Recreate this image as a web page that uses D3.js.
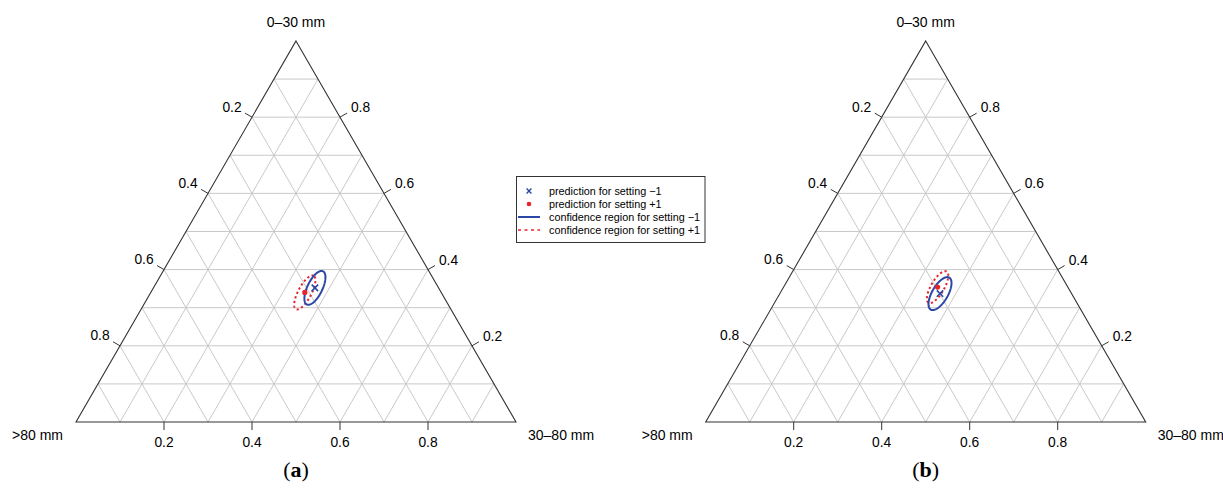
<!DOCTYPE html>
<html><head><meta charset="utf-8">
<script src="https://cdn.jsdelivr.net/npm/d3@7"></script>
<style>body{margin:0;background:#fff} svg{display:block}</style>
</head><body>
<svg id="chart" width="1223" height="488"></svg>
<script>
// Corner names: top vertex, bottom-right vertex, bottom-left vertex
const vertexTop = "0–30 mm";
const vertexRight = "30–80 mm";
const vertexLeft = ">80 mm";
const tickValues = [0.2, 0.4, 0.6, 0.8];
const gridSteps = [0.1, 0.2, 0.3, 0.4, 0.5, 0.6, 0.7, 0.8, 0.9];
const panelNames = ["a", "b"];

// Predicted compositions per panel: [0–30 mm, 30–80 mm, >80 mm]
const predMinus = [[0.352, 0.367, 0.281], [0.337, 0.364, 0.299]];
const predPlus  = [[0.340, 0.350, 0.310], [0.354, 0.350, 0.296]];
// Confidence ellipses around each prediction: semi-axes in side-length units, tilt in degrees
const ellMinus = [{a: 0.042, b: 0.017, angle: 64}, {a: 0.042, b: 0.018, angle: 60}];
const ellPlus  = [{a: 0.043, b: 0.015, angle: 62}, {a: 0.041, b: 0.015, angle: 60}];

const legendLabels = [
  "prediction for setting \u22121",
  "prediction for setting +1",
  "confidence region for setting \u22121",
  "confidence region for setting +1"
];

const BLUE = "#2b48a6", RED = "#e8232b", GRID = "#c9c9c9", AXIS = "#333";
const side = 440, baseY = 422;
const H = Math.sqrt(3) / 2;
const panelLeft = [76, 705.7];
const svg = d3.select("#chart");
const sans = "'Liberation Sans', Arial, sans-serif";

panelNames.forEach((name, p) => {
  const x = d3.scaleLinear().domain([0, 1]).range([panelLeft[p], panelLeft[p] + side]);
  const y = d3.scaleLinear().domain([0, H]).range([baseY, baseY - side * H]);
  // composition [top, right, left] -> screen
  const pt = c => [x(c[1] + c[0] / 2), y(c[0] * H)];
  const g = svg.append("g");
  const line = d3.line();

  // grid
  const gridLines = [];
  gridSteps.forEach(v => {
    gridLines.push([[v, 0, 1 - v], [v, 1 - v, 0]]);        // constant top share
    gridLines.push([[0, v, 1 - v], [1 - v, v, 0]]);        // constant right share
    gridLines.push([[0, 1 - v, v], [1 - v, 0, v]]);        // constant left share
  });
  g.selectAll("path.grid").data(gridLines).join("path")
    .attr("class", "grid")
    .attr("d", d => line(d.map(pt)))
    .attr("stroke", GRID).attr("stroke-width", 1).attr("fill", "none");

  // outline
  g.append("path")
    .attr("d", line([[1, 0, 0], [0, 1, 0], [0, 0, 1]].map(pt)) + "Z")
    .attr("fill", "none").attr("stroke", AXIS).attr("stroke-width", 1.1);

  const tl = 8;
  // bottom ticks: share of 30–80 mm
  tickValues.forEach(v => {
    const [px, py] = pt([0, v, 1 - v]);
    g.append("line").attr("x1", px).attr("y1", py).attr("x2", px).attr("y2", py + tl)
      .attr("stroke", AXIS).attr("stroke-width", 1);
    g.append("text").attr("x", px).attr("y", py + 25).attr("text-anchor", "middle")
      .attr("font-family", sans).attr("font-size", 13.8).text(v.toFixed(1));
  });
  // left ticks: share of >80 mm
  tickValues.forEach(v => {
    const [px, py] = pt([1 - v, 0, v]);
    const ex = px - tl * 0.866, ey = py - tl * 0.5;
    g.append("line").attr("x1", px).attr("y1", py).attr("x2", ex).attr("y2", ey)
      .attr("stroke", AXIS).attr("stroke-width", 1);
    g.append("text").attr("x", ex - 3.5).attr("y", ey - 1.5).attr("text-anchor", "end")
      .attr("font-family", sans).attr("font-size", 13.8).text(v.toFixed(1));
  });
  // right ticks: share of 0–30 mm
  tickValues.forEach(v => {
    const [px, py] = pt([v, 1 - v, 0]);
    const ex = px + tl * 0.866, ey = py - tl * 0.5;
    g.append("line").attr("x1", px).attr("y1", py).attr("x2", ex).attr("y2", ey)
      .attr("stroke", AXIS).attr("stroke-width", 1);
    g.append("text").attr("x", ex + 4).attr("y", ey - 1).attr("text-anchor", "start")
      .attr("font-family", sans).attr("font-size", 13.8).text(v.toFixed(1));
  });

  // vertex labels
  const top = pt([1, 0, 0]), br = pt([0, 1, 0]), bl = pt([0, 0, 1]);
  g.append("text").attr("x", top[0]).attr("y", top[1] - 14).attr("text-anchor", "middle")
    .attr("font-family", sans).attr("font-size", 14).text(vertexTop);
  g.append("text").attr("x", br[0] + 12).attr("y", br[1] + 18).attr("text-anchor", "start")
    .attr("font-family", sans).attr("font-size", 14).text(vertexRight);
  g.append("text").attr("x", bl[0] - 13).attr("y", bl[1] + 18).attr("text-anchor", "end")
    .attr("font-family", sans).attr("font-size", 14).text(vertexLeft);

  // confidence ellipses
  const ellipse = (c, e) => {
    const cx = c[1] + c[0] / 2, cy = c[0] * H;
    const phi = e.angle * Math.PI / 180;
    const pts = d3.range(0, 121).map(i => {
      const t = i / 120 * 2 * Math.PI;
      const dx = e.a * Math.cos(t) * Math.cos(phi) - e.b * Math.sin(t) * Math.sin(phi);
      const dy = e.a * Math.cos(t) * Math.sin(phi) + e.b * Math.sin(t) * Math.cos(phi);
      return [x(cx + dx), y(cy + dy)];
    });
    return line(pts);
  };
  g.append("path").attr("d", ellipse(predPlus[p], ellPlus[p]))
    .attr("fill", "none").attr("stroke", RED).attr("stroke-width", 2)
    .attr("stroke-dasharray", "2.2,2.6");
  g.append("path").attr("d", ellipse(predMinus[p], ellMinus[p]))
    .attr("fill", "none").attr("stroke", BLUE).attr("stroke-width", 2);

  // predictions
  const pm = pt(predMinus[p]);
  const s = 3.2;
  g.append("path").attr("d", `M${pm[0]-s},${pm[1]-s}L${pm[0]+s},${pm[1]+s}M${pm[0]-s},${pm[1]+s}L${pm[0]+s},${pm[1]-s}`)
    .attr("stroke", BLUE).attr("stroke-width", 1.6);
  const pp = pt(predPlus[p]);
  g.append("circle").attr("cx", pp[0]).attr("cy", pp[1]).attr("r", 2.6).attr("fill", RED);

  // panel caption
  const cap = g.append("text").attr("x", top[0]).attr("y", 477).attr("text-anchor", "middle")
    .attr("font-family", "'Liberation Serif', 'DejaVu Serif', serif").attr("font-size", 22);
  cap.append("tspan").text("(");
  cap.append("tspan").attr("font-weight", "bold").text(name);
  cap.append("tspan").text(")");
});

// legend
const lg = svg.append("g");
lg.append("rect").attr("x", 516.5).attr("y", 176.5).attr("width", 188.5).attr("height", 66)
  .attr("fill", "#fff").attr("stroke", AXIS).attr("stroke-width", 1);
const rowY = [191, 204, 217, 230];
legendLabels.forEach((t, i) => {
  lg.append("text").attr("x", 549).attr("y", rowY[i] + 3.8)
    .attr("font-family", sans).attr("font-size", 10.8).text(t);
});
const lx = 529, s2 = 2.4;
lg.append("path").attr("d", `M${lx-s2},${rowY[0]-s2}L${lx+s2},${rowY[0]+s2}M${lx-s2},${rowY[0]+s2}L${lx+s2},${rowY[0]-s2}`)
  .attr("stroke", BLUE).attr("stroke-width", 1.4);
lg.append("circle").attr("cx", lx).attr("cy", rowY[1]).attr("r", 2.3).attr("fill", RED);
lg.append("line").attr("x1", 518).attr("x2", 540).attr("y1", rowY[2]).attr("y2", rowY[2])
  .attr("stroke", BLUE).attr("stroke-width", 2);
lg.append("line").attr("x1", 518).attr("x2", 540).attr("y1", rowY[3]).attr("y2", rowY[3])
  .attr("stroke", RED).attr("stroke-width", 1.6).attr("stroke-dasharray", "3,3.5");
</script>
</body></html>
